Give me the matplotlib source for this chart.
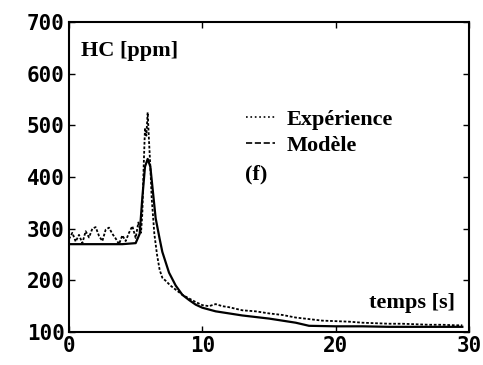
import matplotlib
matplotlib.use("Agg")
import matplotlib.pyplot as plt
from matplotlib.lines import Line2D

# experience (dotted, noisy)
t_exp = [0, 0.25, 0.5, 0.75, 1, 1.25, 1.5, 1.75, 2, 2.25, 2.5, 2.75, 3, 3.25, 3.5, 3.75,
         4, 4.25, 4.5, 4.75, 5, 5.2, 5.4, 5.5, 5.6, 5.7, 5.8, 5.9, 6.0, 6.1, 6.2, 6.4,
         6.6, 6.8, 7, 7.3, 7.6, 8, 8.5, 9, 9.5, 10, 10.5, 11, 11.5, 12, 13, 14, 15, 16,
         17, 18, 19, 20, 21, 22, 23, 24, 25, 26, 27, 28, 29, 29.5]
hc_exp = [280, 292, 275, 288, 272, 295, 283, 300, 303, 286, 276, 298, 302, 290, 281, 270,
          287, 276, 292, 305, 282, 312, 292, 330, 420, 495, 480, 525, 470, 420, 360, 290,
          250, 220, 205, 198, 190, 182, 172, 165, 158, 152, 150, 154, 150, 148, 142, 140,
          136, 133, 128, 125, 122, 121, 120, 118, 117, 116, 116, 115, 114, 114, 113, 113]

# modele (solid)
t_mod = [0, 1, 2, 3, 4, 5, 5.3, 5.5, 5.7, 5.9, 6.1, 6.3, 6.5, 6.8, 7, 7.5, 8, 8.5, 9,
         9.5, 10, 11, 12, 13, 14, 15, 16, 17, 18, 20, 22, 24, 26, 28, 29.5]
hc_mod = [270, 270, 270, 270, 270, 272, 290, 360, 420, 435, 420, 370, 320, 280, 255, 215,
          190, 172, 162, 153, 147, 140, 136, 132, 129, 126, 122, 118, 112, 111, 111, 110,
          110, 110, 110]

fig = plt.figure(figsize=(4.83, 3.65), dpi=100)
ax = fig.add_axes([69 / 483, 1 - 332 / 365, 400 / 483, 310 / 365])

ax.plot(t_exp, hc_exp, color="black", lw=1.3, ls=(0, (1.5, 1)))
ax.plot(t_mod, hc_mod, color="black", lw=1.6)

ax.set_xlim(0, 30)
ax.set_ylim(100, 700)
ax.set_xticks([0, 10, 20, 30])
ax.set_yticks(range(100, 701, 100))
ax.tick_params(direction="in", top=True, right=True, length=4, width=1, pad=3)
for lab in ax.get_xticklabels() + ax.get_yticklabels():
    lab.set_family("DejaVu Sans Mono")
    lab.set_fontweight("bold")
    lab.set_fontsize(15)
for s in ax.spines.values():
    s.set_linewidth(1.5)

serif = dict(family="Liberation Serif", fontweight="bold", fontsize=16, color="black")
ax.text(0.03, 0.94, "HC [ppm]", transform=ax.transAxes, va="top", ha="left", **serif)
ax.text(0.965, 0.06, "temps [s]", transform=ax.transAxes, va="bottom", ha="right", **serif)
ax.text(0.44, 0.475, "(f)", transform=ax.transAxes, va="bottom", ha="left", **serif)

handles = [Line2D([], [], color="black", lw=1.2, ls=":"),
           Line2D([], [], color="black", lw=1.2, ls="--")]
ax.legend(handles, ["Expérience", "Modèle"], loc="upper left",
          bbox_to_anchor=(0.415, 0.755), frameon=False, handlelength=1.3,
          handletextpad=0.5, labelspacing=0.25, borderpad=0,
          prop=dict(family="Liberation Serif", weight="bold", size=16))

fig.savefig("out.png", dpi=100)
